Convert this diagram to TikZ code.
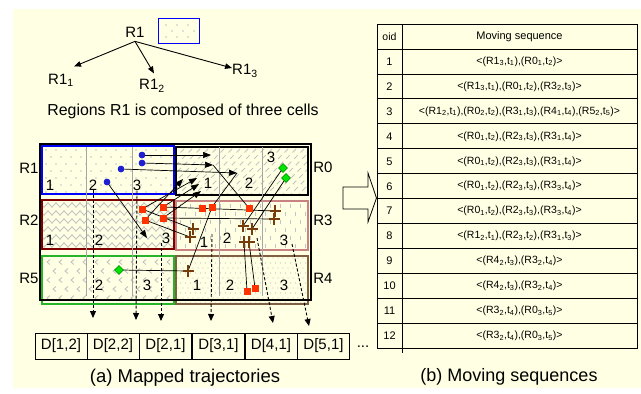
\documentclass[tikz,border=0pt]{standalone}
\usepackage{fontspec}
\setmainfont{Liberation Sans}
\usetikzlibrary{arrows.meta,decorations.pathmorphing,shapes.geometric}
\definecolor{bgyellow}{RGB}{255,255,228}
\definecolor{rblue}{RGB}{0,0,255}
\definecolor{rmaroon}{RGB}{128,0,0}
\definecolor{rrose}{RGB}{200,130,130}
\definecolor{rgreen}{RGB}{40,180,40}
\definecolor{rbrown}{RGB}{128,96,64}
\definecolor{sqred}{RGB}{255,51,0}
\definecolor{dotblue}{RGB}{30,30,210}
\definecolor{dgreen}{RGB}{0,230,0}
\definecolor{xbrown}{RGB}{120,60,10}
\definecolor{patgray}{RGB}{195,195,195}
\newcommand\sbx[1]{\textsubscript{#1}}
\tikzset{
 f15/.style={font=\fontsize{15}{17}\selectfont},
 lbl/.style={f15, inner sep=0pt},
 region/.style={line width=1.4pt},
 cellline/.style={draw=gray!70, line width=0.8pt},
 traj/.style={line width=0.7pt, black},
 trajarrow/.style={traj, -{Triangle[length=8pt,width=6pt]}},
 treearrow/.style={line width=0.9pt, -{Triangle[length=7pt,width=5.5pt]}},
 dasharrow/.style={line width=0.9pt, dash pattern=on 3pt off 2pt, -{Triangle[length=7pt,width=6pt]}},
 bluedot/.style={circle, fill=dotblue, inner sep=0pt, minimum size=6.5pt},
 redsq/.style={rectangle, fill=sqred, inner sep=0pt, minimum size=7pt},
 greendia/.style={diamond, fill=dgreen, draw=green!50!black, line width=0.3pt, inner sep=0pt, minimum size=9pt},
 xmark/.pic={\draw[xbrown, line width=1.8pt] (-5.5,0)--(5.5,0) (0,-6)--(0,6);},
 dbox/.style={draw, line width=0.8pt, minimum width=52pt, minimum height=26pt, inner sep=0pt, f15},
 tcell/.style={inner sep=0pt, font=\fontsize{10.5}{12}\selectfont},
 tnum/.style={inner sep=0pt, font=\fontsize{11}{13}\selectfont},
}
\begin{document}
\begin{tikzpicture}[x=1pt,y=-1pt]
\useasboundingbox (0,0) rectangle (641,394);
\fill[bgyellow] (13,9) rectangle (641,388);

% ---------- tree ----------
\node[lbl] (r1) at (135,32) {R1};
\node[draw=rblue, line width=1pt, minimum width=41pt, minimum height=25pt, inner sep=0pt] (r1box) at (178.5,31) {};
\foreach \p in {(166,25),(177,25),(188,25),(172,31),(183,31),(194,31),(166,37),(177,37),(188,37)}
  \fill[patgray] \p circle (0.8);
\node[lbl] (r11) at (61,80) {R1\sbx{1}};
\node[lbl] (r12) at (152,86) {R1\sbx{2}};
\node[lbl] (r13) at (245,71) {R1\sbx{3}};
\draw[treearrow] ([yshift=-4pt]r1.south) -- ([yshift=7pt]r11.north east);
\draw[treearrow] ([yshift=-4pt]r1.south) -- ([xshift=2pt,yshift=6pt]r12.north);
\draw[treearrow] ([yshift=-4pt]r1.south) -- ([yshift=3pt]r13.west);
\node[font=\fontsize{15.9}{18}\selectfont, inner sep=0pt] (cap0) at (183,111) {Regions R1 is composed of three cells};

% ---------- patterns ----------
\begin{scope}
\clip (42,146) rectangle (174,194);
\foreach \r in {0,...,6} \foreach \c in {0,...,14}
  \fill[patgray] ({46+\c*10+mod(\r,2)*5},{150+\r*7}) circle (0.9);
\end{scope}
\begin{scope}
\clip (176,147) rectangle (308,195);
\foreach \k in {-56,-48,...,140}
  \draw[patgray, line width=1pt, dash pattern=on 5pt off 4pt] ({176+\k},197) -- ({176+\k+55},142);
\end{scope}
\begin{scope}
\clip (42,200) rectangle (174,249);
\foreach \y in {205,213,...,245}
  \draw[patgray, line width=0.9pt, decorate, decoration={zigzag, amplitude=2.2pt, segment length=8pt}] (38,\y) -- (178,\y);
\end{scope}
\begin{scope}
\clip (176,201) rectangle (308,250);
\foreach \r in {0,...,5} \foreach \c in {0,...,13}
  \draw[patgray, line width=1pt] ({180+\c*10+mod(\r,2)*5},{204+\r*8}) -- ++(0,4);
\end{scope}
\begin{scope}
\clip (176,256) rectangle (308,304);
\foreach \r in {0,...,9} \foreach \c in {0,...,26}
  \fill[patgray] ({178+\c*5+mod(\r,2)*2.5},{258+\r*5}) circle (0.6);
\end{scope}
\begin{scope}
\clip (42,256) rectangle (174,304);
\foreach \r in {0,...,4} \foreach \c in {0,...,11}
  \draw[patgray, line width=0.9pt] ({50+\c*12+mod(\r,2)*6},{259.5+\r*9}) -- ++(-3,2.5) -- ++(3,2.5);
\end{scope}

% ---------- regions ----------
\draw[rblue, region] (42,146) rectangle (174,194);
\draw[black, line width=1.2pt] (176,147) rectangle (308,195);
\draw[rmaroon, region] (42,200) rectangle (174,249);
\draw[rrose, region] (176,201) rectangle (308,250);
\draw[rgreen, region] (42,256) rectangle (174,304);
\draw[rbrown, region] (176,256) rectangle (308,304);
\draw[line width=2.2pt] (40,144) rectangle (311,300);
\foreach \x in {86,132,219,262} \draw[cellline] (\x,147) -- (\x,296);

\node[lbl] (lR1) at (29,168) {R1};
\node[lbl] (lR2) at (29,220) {R2};
\node[lbl] (lR5) at (29,278) {R5};
\node[lbl] (lR0) at (323,167) {R0};
\node[lbl] (lR3) at (323,220) {R3};
\node[lbl] (lR4) at (323,278) {R4};

% cell numbers
\node[lbl] (n11) at (50,185) {1};
\node[lbl] (n12) at (93,185) {2};
\node[lbl] (n13) at (137,185) {3};
\node[lbl] (n01) at (208,183) {1};
\node[lbl] (n02) at (249,183) {2};
\node[lbl] (n03) at (271,157) {3};
\node[lbl] (n21) at (50,240) {1};
\node[lbl] (n22) at (99,240) {2};
\node[lbl] (n23) at (166,238) {3};
\node[lbl] (n31) at (204,242) {1};
\node[lbl] (n32) at (227,238) {2};
\node[lbl] (n33) at (284,240) {3};
\node[lbl] (n52) at (99,285) {2};
\node[lbl] (n53) at (147,285) {3};
\node[lbl] (n41) at (197,285) {1};
\node[lbl] (n42) at (230,285) {2};
\node[lbl] (n43) at (284,285) {3};

% ---------- D boxes ----------
\node[dbox] (d1) at (61,346) {D[1,2]};
\node[dbox] (d2) at (113,346) {D[2,2]};
\node[dbox] (d3) at (165.5,346) {D[2,1]};
\node[dbox] (d4) at (218.5,346) {D[3,1]};
\node[dbox] (d5) at (271,346) {D[4,1]};
\node[dbox] (d6) at (323.5,346) {D[5,1]};
\node[lbl] (dots) at (363,347) {...};

\coordinate (e1) at (93,318);
\coordinate (e2) at (136,320);
\coordinate (e3) at (161,321);
\coordinate (e4) at (211,321);
\coordinate (e5) at (273,323);
\coordinate (e6) at (309,326);
\coordinate (f3) at (161,243);
\coordinate (f4) at (212,234);
\coordinate (f5) at (257,238);
\coordinate (f6) at (292,244);
\draw[dasharrow] (n12.south) -- (e1);
\draw[dasharrow] (n13.south) -- (e2);
\draw[dasharrow] (f3) -- (e3);
\draw[dasharrow] (f4) -- (e4);
\draw[dasharrow] (f5) -- (e5);
\draw[dasharrow] (f6) -- (e6);

% ---------- trajectories ----------
\node[bluedot] (b1) at (142,155) {};
\node[bluedot] (b2) at (142,163) {};
\node[bluedot] (b3) at (121,169) {};
\node[bluedot] (b4) at (107,182) {};
\coordinate (a1) at (211,155);
\coordinate (a2) at (213,165);
\coordinate (a3) at (237,173);
\coordinate (a4) at (147,238);
\node[redsq] (s1) at (142,209) {};
\node[redsq] (s2) at (163,207) {};
\node[redsq] (s3) at (145,220) {};
\node[redsq] (s4) at (163,218) {};
\node[redsq] (s5) at (202,208) {};
\node[redsq] (s6) at (212,207) {};
\node[redsq] (s7) at (249,208) {};
\node[redsq] (s8) at (247,291) {};
\node[redsq] (s9) at (255,288) {};
\coordinate (q1) at (183,179);
\coordinate (q2) at (197,178);
\coordinate (q3) at (199,184);
\coordinate (q4) at (201,191);
\coordinate (c1) at (193,229);
\coordinate (c2) at (190,237);
\coordinate (c3) at (275,211);
\coordinate (c4) at (274,219);
\coordinate (c5) at (243,226);
\coordinate (c6) at (252,229);
\coordinate (c7) at (188,271);
\coordinate (c8) at (244,242);
\coordinate (c9) at (249,242);
\node[greendia] (g1) at (283,168) {};
\node[greendia] (g2) at (286,178) {};
\node[greendia] (g3) at (119,270) {};

\draw[trajarrow] (b1.center) -- (a1);
\draw[trajarrow] (b2.center) -- (a2);
\draw[traj] (a2) -- (s7.center);
\draw[trajarrow] (b3.center) -- (a3);
\draw[traj] (a3) -- (s6.center) -- (c7) -- (g3.center);
\draw[trajarrow] (b4.center) -- (a4);
\draw[trajarrow] (s3.center) -- (q1);
\draw[trajarrow] (s1.center) -- (q2);
\draw[trajarrow] (s2.center) -- (q3);
\draw[trajarrow] (s4.center) -- (q4);
\draw[traj] (s1.center) -- (c1);
\draw[traj] (s3.center) -- (c2);
\draw[traj] (s2.center) -- (c3);
\draw[traj] (s4.center) -- (c4);
\draw[traj] (g1.center) -- (c5);
\draw[traj] (g2.center) -- (c6);
\draw[traj] (c8) -- (s8.center);
\draw[traj] (c9) -- (s9.center);

\foreach \c in {c1,c2,c3,c4,c5,c6,c7,c8,c9} \pic at (\c) {xmark};
\foreach \n in {b1,b2,b3,b4} \node[bluedot] at (\n) {};
\foreach \n in {s1,s2,s3,s4,s5,s6,s7,s8,s9} \node[redsq] at (\n) {};
\foreach \n in {g1,g2,g3} \node[greendia] at (\n) {};

% ---------- big arrow ----------
\draw[line width=0.8pt, fill=bgyellow] (343,187) -- (368,187) -- (368,173) -- (376.5,198) -- (368,222) -- (368,209) -- (343,209) -- cycle;

% ---------- table ----------
\draw[line width=0.8pt] (377,24) rectangle (637,348.5);
\draw[line width=0.8pt] (402,24) -- (402,353);
\foreach \i in {1,...,12} \draw[line width=0.8pt] (377,{24+24.96*\i}) -- (637,{24+24.96*\i});
\node[tcell] (hoid) at (389.5,36.5) {oid};
\node[tnum] (hseq) at (519.5,36.5) {Moving sequence};
\foreach [count=\i] \t in {
 {<(R1\sbx{3},t\sbx{1}),(R0\sbx{1},t\sbx{2})>},
 {<(R1\sbx{3},t\sbx{1}),(R0\sbx{1},t\sbx{2}),(R3\sbx{2},t\sbx{3})>},
 {<(R1\sbx{2},t\sbx{1}),(R0\sbx{2},t\sbx{2}),(R3\sbx{1},t\sbx{3}),(R4\sbx{1},t\sbx{4}),(R5\sbx{2},t\sbx{5})>},
 {<(R0\sbx{1},t\sbx{2}),(R2\sbx{3},t\sbx{3}),(R3\sbx{1},t\sbx{4})>},
 {<(R0\sbx{1},t\sbx{2}),(R2\sbx{3},t\sbx{3}),(R3\sbx{1},t\sbx{4})>},
 {<(R0\sbx{1},t\sbx{2}),(R2\sbx{3},t\sbx{3}),(R3\sbx{3},t\sbx{4})>},
 {<(R0\sbx{1},t\sbx{2}),(R2\sbx{3},t\sbx{3}),(R3\sbx{3},t\sbx{4})>},
 {<(R1\sbx{2},t\sbx{1}),(R2\sbx{3},t\sbx{2}),(R3\sbx{1},t\sbx{3})>},
 {<(R4\sbx{2},t\sbx{3}),(R3\sbx{2},t\sbx{4})>},
 {<(R4\sbx{2},t\sbx{3}),(R3\sbx{2},t\sbx{4})>},
 {<(R3\sbx{2},t\sbx{4}),(R0\sbx{3},t\sbx{5})>},
 {<(R3\sbx{2},t\sbx{4}),(R0\sbx{3},t\sbx{5})>}}
{
 \node[tnum] (o\i) at (389.5,{24+24.96*(\i+0.5)}) {\i};
 \node[tcell] (m\i) at (519.5,{24+24.96*(\i+0.5)}) {\t};
}

% ---------- captions ----------
\node[font=\fontsize{18.5}{21}\selectfont, inner sep=0pt] (capa) at (185,378) {(a) Mapped trajectories};
\node[font=\fontsize{18}{21}\selectfont, inner sep=0pt] (capb) at (509,377) {(b) Moving sequences};
\end{tikzpicture}
\end{document}
